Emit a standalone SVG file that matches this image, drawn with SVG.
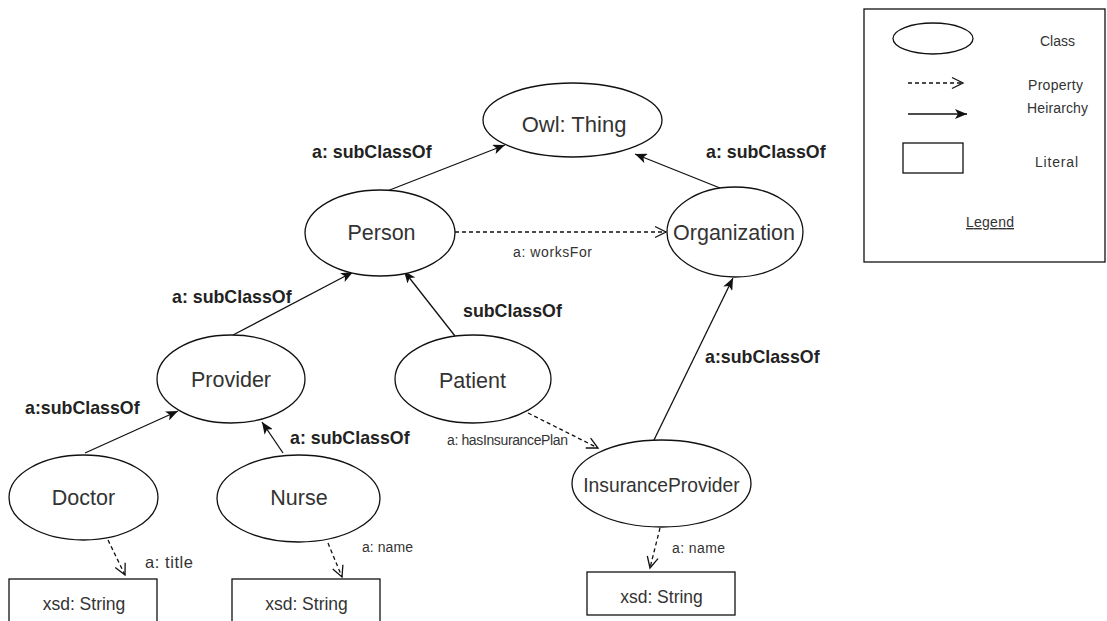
<svg xmlns="http://www.w3.org/2000/svg" width="1107" height="621" viewBox="0 0 1107 621">
  <style>
    .cls { fill: #fff; stroke: #111; stroke-width: 1.3; }
    .lit { fill: #fff; stroke: #111; stroke-width: 1.3; }
    .name { font-family: "Liberation Sans", Arial, sans-serif; font-size: 21.5px; fill: #333; text-anchor: middle; }
    .lbl { font-family: "Liberation Sans", Arial, sans-serif; font-size: 17.8px; font-weight: bold; fill: #222; }
    .sm { font-family: "Liberation Sans", Arial, sans-serif; font-size: 14px; fill: #333; }
    .xsd { font-family: "Liberation Sans", Arial, sans-serif; font-size: 17.5px; fill: #333; text-anchor: middle; }
    .sub { fill: none; stroke: #111; stroke-width: 1.3; marker-end: url(#classic); }
    .prop { fill: none; stroke: #111; stroke-width: 1.3; stroke-dasharray: 4 3; marker-end: url(#open); }
  </style>
  <defs>
    <marker id="classic" markerUnits="userSpaceOnUse" viewBox="0 0 12 10" refX="12" refY="5" markerWidth="12" markerHeight="10" orient="auto">
      <path d="M0,0 L12,5 L0,10 L3,5 Z" fill="#111" stroke="none"/>
    </marker>
    <marker id="open" markerUnits="userSpaceOnUse" viewBox="-1 -1 13 13" refX="11" refY="5.5" markerWidth="13" markerHeight="13" orient="auto" overflow="visible">
      <path d="M0,0 L11,5.5 L0,11" fill="none" stroke="#111" stroke-width="1.3" stroke-dasharray="none"/>
    </marker>
  </defs>

  <!-- connectors -->
  <g id="connectors">
    <line class="sub" x1="382" y1="193" x2="505" y2="145"/>
    <line class="sub" x1="720" y1="188" x2="635" y2="154"/>
    <line class="prop" x1="455" y1="232" x2="666" y2="232"/>
    <line class="sub" x1="233" y1="335" x2="353" y2="272"/>
    <line class="sub" x1="455" y1="336" x2="404" y2="271"/>
    <line class="sub" x1="85" y1="453" x2="178" y2="411"/>
    <line class="sub" x1="283" y1="453" x2="262" y2="422"/>
    <line class="sub" x1="653" y1="442" x2="733" y2="278"/>
    <line class="prop" x1="528" y1="413" x2="598" y2="448"/>
    <line class="prop" x1="108" y1="540" x2="125" y2="575"/>
    <line class="prop" x1="328" y1="543" x2="342" y2="577"/>
    <line class="prop" x1="660" y1="528" x2="650" y2="568"/>
  </g>

  <!-- edge labels -->
  <g id="edge-labels">
    <text class="lbl" x="312" y="158">a: subClassOf</text>
    <text class="lbl" x="706" y="158">a: subClassOf</text>
    <text class="lbl" x="172" y="303">a: subClassOf</text>
    <text class="lbl" x="463" y="317">subClassOf</text>
    <text class="lbl" x="25" y="414">a:subClassOf</text>
    <text class="lbl" x="290" y="444">a: subClassOf</text>
    <text class="lbl" x="705" y="363">a:subClassOf</text>
    <text class="sm" x="513" y="257" textLength="79" lengthAdjust="spacing">a: worksFor</text>
    <text class="sm" x="447" y="445" textLength="121" lengthAdjust="spacing">a: hasInsurancePlan</text>
    <text class="sm" x="145" y="568" style="font-size:16.5px" textLength="48" lengthAdjust="spacing">a: title</text>
    <text class="sm" x="362" y="552" textLength="51" lengthAdjust="spacing">a: name</text>
    <text class="sm" x="672" y="553" textLength="53" lengthAdjust="spacing">a: name</text>
  </g>

  <!-- classes -->
  <g id="owl-thing">
    <ellipse class="cls" cx="572.5" cy="120" rx="89.5" ry="37"/>
    <text class="name" x="574" y="132" style="font-size:22px">Owl: Thing</text>
  </g>
  <g id="person">
    <ellipse class="cls" cx="380" cy="233" rx="75" ry="43"/>
    <text class="name" x="381.5" y="240">Person</text>
  </g>
  <g id="organization">
    <ellipse class="cls" cx="735" cy="232" rx="68" ry="45"/>
    <text class="name" x="734" y="240">Organization</text>
  </g>
  <g id="provider">
    <ellipse class="cls" cx="231" cy="379" rx="74" ry="44"/>
    <text class="name" x="231" y="387">Provider</text>
  </g>
  <g id="patient">
    <ellipse class="cls" cx="473" cy="379" rx="78" ry="44"/>
    <text class="name" x="472.5" y="388">Patient</text>
  </g>
  <g id="insurance-provider">
    <ellipse class="cls" cx="661.5" cy="483.5" rx="89.5" ry="43.5"/>
    <text class="name" x="661.5" y="492" style="font-size:19.3px">InsuranceProvider</text>
  </g>
  <g id="doctor">
    <ellipse class="cls" cx="83.5" cy="497.5" rx="74.5" ry="42.5"/>
    <text class="name" x="83.5" y="505">Doctor</text>
  </g>
  <g id="nurse">
    <ellipse class="cls" cx="298.5" cy="498.5" rx="81.5" ry="43.5"/>
    <text class="name" x="299" y="505">Nurse</text>
  </g>

  <!-- literals -->
  <g id="doctor-title-literal">
    <rect class="lit" x="9" y="579" width="148" height="50"/>
    <text class="xsd" x="84" y="610">xsd: String</text>
  </g>
  <g id="nurse-name-literal">
    <rect class="lit" x="232" y="579" width="148" height="50"/>
    <text class="xsd" x="306.5" y="610">xsd: String</text>
  </g>
  <g id="insurance-name-literal">
    <rect class="lit" x="587" y="572" width="148" height="43"/>
    <text class="xsd" x="661.5" y="603">xsd: String</text>
  </g>

  <!-- legend -->
  <g id="legend">
    <rect x="864" y="9" width="241" height="253" fill="#fff" stroke="#111" stroke-width="1.3"/>
    <ellipse class="cls" cx="933" cy="38.5" rx="40" ry="15.5"/>
    <line class="prop" x1="908" y1="83" x2="963" y2="83"/>
    <line class="sub" x1="908" y1="114" x2="967" y2="114"/>
    <rect class="lit" x="903" y="143" width="60" height="30"/>
    <text class="sm" x="1040" y="46" textLength="35" lengthAdjust="spacing">Class</text>
    <text class="sm" x="1028" y="90" textLength="55" lengthAdjust="spacing">Property</text>
    <text class="sm" x="1027" y="113" textLength="61" lengthAdjust="spacing">Heirarchy</text>
    <text class="sm" x="1035" y="167" textLength="43" lengthAdjust="spacing">Literal</text>
    <text class="sm" x="966" y="227" textLength="48" lengthAdjust="spacing" text-decoration="underline">Legend</text>
  </g>
</svg>
